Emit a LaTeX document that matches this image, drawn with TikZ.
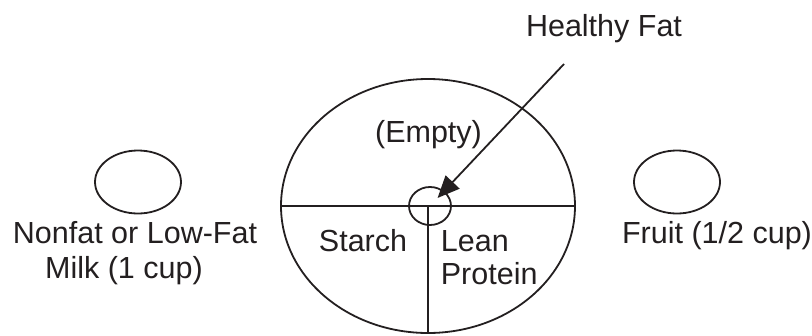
\documentclass[tikz,border=0pt]{standalone}
\usepackage{fontspec}
\setmainfont{Liberation Sans}
\usetikzlibrary{arrows.meta,shapes.geometric}
\definecolor{ink}{HTML}{231F20}
\begin{document}
\begin{tikzpicture}[x=1pt,y=-1pt,
  line width=1.8pt,
  oval/.style={ellipse, draw=ink, line width=1.8pt, inner sep=0pt},
  rule/.style={draw=ink, line width=1.8pt},
  lbl/.style={font=\fontsize{30.5}{35}\selectfont, text=ink, inner sep=0pt, anchor=base},
  lblw/.style={lbl, anchor=base west},
  pointer/.style={-{Triangle[length=22pt,width=19pt]}, draw=ink, fill=ink, line width=1.8pt}]
\useasboundingbox (0,0) rectangle (812,335);
% plate
\node[oval, minimum width=294pt, minimum height=254pt] (plate) at (428,206) {};
\node[oval, minimum width=42pt, minimum height=38pt] (fat) at (430,206) {};
\draw[rule] (plate.west) -- (plate.east);
\draw[rule] (plate.center) -- (plate.south);
% side items
\node[oval, minimum width=86pt, minimum height=63pt] (milk) at (138,182) {};
\node[oval, minimum width=86pt, minimum height=63pt] (fruit) at (677,182) {};
% labels
\node[lbl] (hflabel) at (604,36) {Healthy Fat};
\node[lbl] (empty) at (428.5,142) {(Empty)};
\node[lbl] (starch) at (363,251) {Starch};
\node[lblw] (lean) at (440,251) {Lean};
\node[lblw] (protein) at (440,284) {Protein};
\node[lbl] (milk1) at (135,243) {Nonfat or Low-Fat};
\node[lbl] (milk2) at (124,278) {Milk (1 cup)};
\node[lbl] (fruitlabel) at (717,243) {Fruit (1/2 cup)};
% arrow
\coordinate (hfstart) at (564,64);
\draw[pointer, shorten >=11pt] (hfstart) -- (fat.center);
\end{tikzpicture}
\end{document}
